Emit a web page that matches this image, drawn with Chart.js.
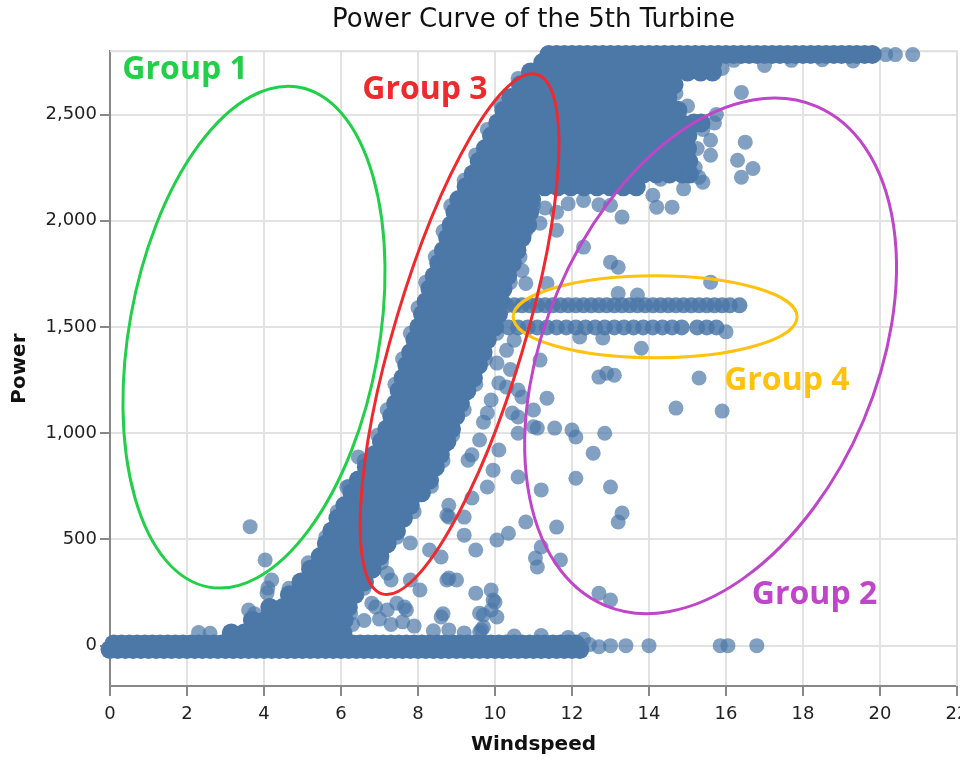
<!DOCTYPE html>
<html lang="en">
<head>
<meta charset="UTF-8">
<title>Power Curve of the 5th Turbine</title>
<script src="https://cdn.jsdelivr.net/npm/chart.js"></script>
<style>
  html, body { margin: 0; padding: 0; background: #fff; }
  #wrap { width: 960px; height: 760px; }
</style>
</head>
<body>
<div id="wrap"><canvas id="chart" width="960" height="760"></canvas></div>
<script>
// tick labels
const windTicks = [0, 2, 4, 6, 8, 10, 12, 14, 16, 18, 20, 22];
const powerTicks = [0, 500, 1000, 1500, 2000, 2500];

// Dense part of the cloud, read row by row: [power, windspeed, windspeed, ...]
const denseRows = [
  [-18, 0, 0.2, 0.4, 0.6, 0.8, 1.0, 1.2, 1.4, 1.6, 1.8, 2.0, 2.2, 2.4, 2.6, 2.8, 3.0, 3.2, 3.4, 3.6, 3.8, 4.0, 4.2, 4.4, 4.6, 4.8, 5.0, 5.2, 5.4, 5.6, 5.8, 6.0, 6.2, 6.4, 6.6, 6.8, 7.0, 7.2, 7.4, 7.6, 7.8, 8.0, 8.2, 8.4, 8.6, 8.8, 9.0, 9.2, 9.4, 9.6, 9.8, 10.0, 10.2, 10.4, 10.6, 10.8, 11.0, 11.2, 11.4, 11.6, 11.8, 12.0, 12.2],
  [8, 0.1, 0.3, 0.5, 0.7, 0.9, 1.1, 1.3, 1.5, 1.7, 1.9, 2.1, 2.3, 2.5, 2.7, 2.9, 3.1, 3.3, 3.5, 3.7, 3.9, 4.1, 4.3, 4.5, 4.7, 4.9, 5.1, 5.3, 5.5, 5.7, 5.9, 6.1, 6.3, 6.5, 6.7, 6.9, 7.1, 7.3, 7.5, 7.7, 7.9, 8.1, 8.3, 8.5, 8.7, 8.9, 9.1, 9.3, 9.5, 9.7, 9.9, 10.1, 10.3, 10.5, 10.7, 10.9, 11.1, 11.3, 11.5, 11.7, 11.9, 12.1],
  [60, 3.15, 3.49, 3.83, 4.17, 4.51, 4.85, 5.19, 5.53, 5.87, 6.05],
  [120, 3.7, 4.04, 4.38, 4.72, 5.06, 5.4, 5.74, 6.08],
  [180, 4.15, 4.49, 4.83, 5.17, 5.51, 5.85, 6.19],
  [240, 4.66, 5.0, 5.34, 5.68, 6.02, 6.36],
  [300, 4.96, 5.3, 5.64, 5.98, 6.32, 6.61],
  [360, 5.21, 5.55, 5.89, 6.23, 6.57, 6.81],
  [420, 5.46, 5.8, 6.14, 6.48, 6.82, 7.01],
  [480, 5.62, 5.96, 6.3, 6.64, 6.98, 7.2],
  [540, 5.76, 6.1, 6.44, 6.78, 7.12, 7.44],
  [600, 5.92, 6.26, 6.6, 6.94, 7.28, 7.62],
  [660, 6.1, 6.44, 6.78, 7.12, 7.46, 7.8],
  [720, 6.28, 6.62, 6.96, 7.3, 7.64, 7.98, 8.09],
  [780, 6.45, 6.79, 7.13, 7.47, 7.81, 8.15, 8.3],
  [840, 6.66, 7.0, 7.34, 7.68, 8.02, 8.36, 8.45],
  [900, 6.88, 7.22, 7.56, 7.9, 8.24, 8.58],
  [960, 7.05, 7.39, 7.73, 8.07, 8.41, 8.75],
  [1020, 7.19, 7.53, 7.87, 8.21, 8.55, 8.87],
  [1080, 7.32, 7.66, 8.0, 8.34, 8.68, 8.98],
  [1140, 7.42, 7.76, 8.1, 8.44, 8.78, 9.1],
  [1200, 7.51, 7.85, 8.19, 8.53, 8.87, 9.21, 9.27],
  [1260, 7.61, 7.95, 8.29, 8.63, 8.97, 9.31, 9.44],
  [1320, 7.71, 8.05, 8.39, 8.73, 9.07, 9.41, 9.57],
  [1380, 7.81, 8.15, 8.49, 8.83, 9.17, 9.51, 9.69],
  [1440, 7.92, 8.26, 8.6, 8.94, 9.28, 9.62, 9.8],
  [1500, 8.02, 8.36, 8.7, 9.04, 9.38, 9.72, 9.99],
  [1560, 8.12, 8.46, 8.8, 9.14, 9.48, 9.82, 10.09],
  [1620, 8.21, 8.55, 8.89, 9.23, 9.57, 9.91, 10.15],
  [1680, 8.31, 8.65, 8.99, 9.33, 9.67, 10.01, 10.21],
  [1740, 8.42, 8.76, 9.1, 9.44, 9.78, 10.12, 10.33],
  [1800, 8.54, 8.88, 9.22, 9.56, 9.9, 10.24, 10.45],
  [1860, 8.66, 9.0, 9.34, 9.68, 10.02, 10.36, 10.57],
  [1920, 8.77, 9.11, 9.45, 9.79, 10.13, 10.47, 10.7],
  [1980, 8.86, 9.2, 9.54, 9.88, 10.22, 10.56, 10.85],
  [2040, 8.96, 9.3, 9.64, 9.98, 10.32, 10.66, 10.9],
  [2100, 9.06, 9.4, 9.74, 10.08, 10.42, 10.76, 10.95],
  [2160, 9.25, 9.59, 9.93, 10.27, 10.61, 10.95, 11.29, 11.63, 11.97, 12.31, 12.65, 12.99, 13.33, 13.67],
  [2220, 9.43, 9.77, 10.11, 10.45, 10.79, 11.13, 11.47, 11.81, 12.15, 12.49, 12.83, 13.17, 13.51, 13.85, 14.19, 14.53, 14.87, 15.05],
  [2280, 9.59, 9.93, 10.27, 10.61, 10.95, 11.29, 11.63, 11.97, 12.31, 12.65, 12.99, 13.33, 13.67, 14.01, 14.35, 14.69, 15.03],
  [2340, 9.75, 10.09, 10.43, 10.77, 11.11, 11.45, 11.79, 12.13, 12.47, 12.81, 13.15, 13.49, 13.83, 14.17, 14.51, 14.85, 15.0],
  [2400, 9.91, 10.25, 10.59, 10.93, 11.27, 11.61, 11.95, 12.29, 12.63, 12.97, 13.31, 13.65, 13.99, 14.33, 14.67, 15.01],
  [2460, 10.07, 10.41, 10.75, 11.09, 11.43, 11.77, 12.11, 12.45, 12.79, 13.13, 13.47, 13.81, 14.15, 14.49, 14.83, 15.17, 15.35],
  [2520, 10.23, 10.57, 10.91, 11.25, 11.59, 11.93, 12.27, 12.61, 12.95, 13.29, 13.63, 13.97, 14.31, 14.65, 14.75],
  [2580, 10.41, 10.75, 11.09, 11.43, 11.77, 12.11, 12.45, 12.79, 13.13, 13.47, 13.81, 14.15, 14.49],
  [2640, 10.66, 11.0, 11.34, 11.68, 12.02, 12.36, 12.7, 13.04, 13.38, 13.72, 14.06, 14.4, 14.65],
  [2700, 10.92, 11.26, 11.6, 11.94, 12.28, 12.62, 12.96, 13.3, 13.64, 13.98, 14.32, 14.66, 15.0, 15.34, 15.65],
  [2745, 11.24, 11.58, 11.92, 12.26, 12.6, 12.94, 13.28, 13.62, 13.96, 14.3, 14.64, 14.98, 15.32, 15.66],
  [2783, 11.4, 11.6, 11.8, 12.0, 12.2, 12.4, 12.6, 12.8, 13.0, 13.2, 13.4, 13.6, 13.8, 14.0, 14.2, 14.4, 14.6, 14.8, 15.0, 15.2, 15.4, 15.6, 15.8, 16.0, 16.2, 16.4, 16.6, 16.8, 17.0, 17.2, 17.4, 17.6, 17.8, 18.0, 18.2, 18.4, 18.6, 18.8, 19.0, 19.2, 19.4, 19.6, 19.8]
];

// the two flat rows at about 1,600 and 1,500 (group 4)
const curtailRows = [
  [1602, 10.3, 10.5, 10.7, 10.9, 11.1, 11.3, 11.5, 11.7, 11.9, 12.1, 12.3, 12.5, 12.7, 12.9, 13.1, 13.3, 13.5, 13.7, 13.9, 14.1, 14.3, 14.5, 14.7, 14.9, 15.1, 15.3, 15.5, 15.7, 15.9, 16.1, 16.35],
  [1498, 10.35, 10.6, 10.85, 11.1, 11.35, 11.6, 11.85, 12.1, 12.35, 12.6, 12.85, 13.1, 13.35, 13.6, 13.85, 14.1, 14.35, 14.6, 14.85, 15.25, 15.5, 15.75]
];

// readings on the rim of the dense cloud: [windspeed, power]
const rimPoints = [
  [3.75, 150], [4.65, 270], [5.15, 390], [5.6, 510], [5.9, 630], [6.2, 750], [6.6, 870], [6.95, 990], [7.2, 1110],
  [7.4, 1230], [7.6, 1350], [7.8, 1470], [8.0, 1590], [8.2, 1710], [8.45, 1830], [8.65, 1950], [8.85, 2070],
  [9.2, 2190], [9.5, 2310], [9.8, 2430], [10.15, 2550], [10.6, 2670],
  [6.25, 150], [6.6, 270], [7.05, 390], [7.45, 510], [7.9, 630], [8.35, 750], [8.65, 870], [8.9, 990], [9.2, 1110],
  [9.5, 1230], [9.75, 1350], [10.05, 1470], [10.4, 1710], [10.65, 1830], [10.8, 1950], [11.0, 2070],
  [11.5, 2175], [12.2, 2175], [12.9, 2175], [13.6, 2175], [14.3, 2195], [15.0, 2215],
  [15.2, 2250], [15.25, 2340], [15.4, 2430], [15.0, 2540], [14.7, 2600]
];

// single readings away from the dense cloud: [windspeed, power]
const scatterPoints = [
  [2.3, 62], [2.6, 58], [3.6, 168], [3.64, 560], [4.03, 403], [4.2, 309], [4.1, 271], [4.08, 248], [6.45, 888], [6.15, 746],
  [6.3, 100], [6.6, 118], [7.0, 125], [7.3, 100], [7.6, 112], [7.9, 92], [8.4, 70], [8.8, 74], [9.2, 60],
  [6.8, 200], [6.9, 182], [7.2, 168], [7.45, 200], [7.65, 182], [7.7, 168], [7.2, 341], [7.3, 309], [7.8, 309],
  [8.05, 262], [7.8, 483], [8.3, 450], [8.6, 417], [8.6, 135], [8.65, 150], [8.75, 309], [9.0, 309], [8.8, 318],
  [8.75, 614], [8.8, 661], [8.8, 605], [9.2, 605], [9.2, 520], [9.4, 695], [9.5, 450], [9.5, 247], [9.6, 153],
  [9.6, 64], [9.65, 74], [9.7, 88], [9.7, 144], [9.9, 262], [9.95, 215], [9.9, 168], [10.05, 135], [10.05, 497], [10.35, 529],
  [9.3, 873], [9.4, 898], [9.6, 968], [9.7, 1052], [9.8, 1095], [9.8, 747], [9.95, 826], [10.1, 921], [9.9, 1156],
  [10.1, 1236], [10.3, 1217], [10.6, 1203], [10.7, 1170], [10.45, 1095], [10.6, 1076], [10.6, 1000], [10.6, 794],
  [11.0, 1109], [11.0, 1030], [11.1, 1024], [11.35, 1165], [11.55, 1024], [12.0, 1015], [12.1, 982], [12.1, 788],
  [12.55, 906], [12.85, 1000], [13.0, 747], [13.2, 582], [13.3, 624], [10.8, 582], [11.2, 733], [11.6, 558],
  [11.7, 403], [11.05, 412], [11.1, 370], [11.2, 464], [12.7, 247], [13.0, 215], [10.0, 205],
  [10.05, 1330], [10.3, 1390], [10.5, 1438], [11.17, 1344], [10.4, 1300], [12.7, 1264], [13.1, 1273], [12.9, 1282],
  [10.7, 1766], [10.8, 1705], [11.35, 1705], [11.17, 1988], [11.6, 1955], [11.3, 2060], [11.6, 2040], [11.9, 2080],
  [12.3, 2095], [12.7, 2075], [12.3, 1876], [13.0, 1805], [13.2, 1781], [13.0, 2073], [13.3, 2017], [14.2, 2064],
  [14.6, 2064], [13.2, 1658], [13.7, 1650], [15.6, 1711],
  [12.2, 1453], [12.8, 1448], [13.8, 1400], [16.0, 1477],
  [14.7, 1118], [15.9, 1104], [15.3, 1260],
  [14.1, 2120], [14.9, 2150], [15.3, 2205], [15.4, 2181], [16.4, 2205], [16.7, 2246], [16.3, 2285], [15.6, 2308],
  [15.6, 2379], [16.5, 2370], [15.7, 2460], [15.75, 2500], [16.4, 2604], [15.9, 2717], [17.0, 2731],
  [16.2, 2755], [17.7, 2755], [18.5, 2758], [19.3, 2752],
  [20.15, 2782], [20.4, 2782], [20.85, 2782],
  [12.45, 5], [12.7, -5], [13.0, 0], [13.4, 0], [14.0, 0], [15.85, 0], [16.05, 0], [16.8, 0],
  [10.5, 45], [11.2, 48], [11.9, 38], [12.3, 30]
];

// hand-drawn group rings: centre in data units, radii in pixels, tilt in degrees
const groups = [
  { label: 'Group 4', color: '#ffc20e', at: [14.16, 1548], radii: [142, 41], tilt: 0, text: [17.58, 1203] },
  { label: 'Group 1', color: '#22cf48', at: [3.74, 1452], radii: [125, 254], tilt: 10.25, text: [1.95, 2666] },
  { label: 'Group 3', color: '#ee2a2e', at: [9.08, 1466], radii: [65, 271], tilt: 16.6, text: [8.18, 2571] },
  { label: 'Group 2', color: '#bf45c9', at: [15.6, 1364], radii: [166, 271], tilt: 23, text: [18.3, 196] }
];

const rowsToPoints = rows => rows.flatMap(r => r.slice(1).map(x => ({ x: x, y: r[0] })));
const pairsToPoints = pairs => pairs.map(p => ({ x: p[0], y: p[1] }));

const FONT = "'DejaVu Sans', sans-serif";
Chart.defaults.font.family = FONT;

const frame = {
  id: 'frame',
  beforeDatasetsDraw(chart) {
    const { ctx, chartArea: a } = chart;
    ctx.save();
    ctx.strokeStyle = '#dddddd';
    ctx.lineWidth = 2;
    ctx.beginPath();
    ctx.moveTo(a.left, a.top);
    ctx.lineTo(a.right, a.top);
    ctx.lineTo(a.right, a.bottom);
    ctx.stroke();
    ctx.restore();
  }
};

const rings = {
  id: 'rings',
  afterDatasetsDraw(chart) {
    const { ctx, scales: { x, y } } = chart;
    ctx.save();
    groups.forEach(g => {
      ctx.strokeStyle = g.color;
      ctx.lineWidth = 3;
      ctx.beginPath();
      ctx.ellipse(x.getPixelForValue(g.at[0]), y.getPixelForValue(g.at[1]),
        g.radii[0], g.radii[1], g.tilt * Math.PI / 180, 0, Math.PI * 2);
      ctx.stroke();
    });
    groups.forEach(g => {
      ctx.fillStyle = g.color;
      ctx.font = "bold 32px 'Open Sans', sans-serif";
      ctx.textAlign = 'center';
      ctx.textBaseline = 'alphabetic';
      ctx.fillText(g.label, x.getPixelForValue(g.text[0]), y.getPixelForValue(g.text[1]));
    });
    ctx.restore();
  }
};

const fixedTicks = values => scale => { scale.ticks = values.map(v => ({ value: v })); };

const looseStyle = {
  pointRadius: 7.5,
  pointBorderWidth: 0,
  pointBackgroundColor: 'rgba(76, 120, 168, 0.7)',
  pointBorderColor: 'rgba(76, 120, 168, 0)',
  clip: false
};

new Chart(document.getElementById('chart'), {
  type: 'scatter',
  data: {
    datasets: [
      Object.assign({ label: 'rim', data: pairsToPoints(rimPoints) }, looseStyle),
      {
        label: 'dense',
        data: rowsToPoints(denseRows),
        pointRadius: 9.5,
        pointBorderWidth: 0,
        pointBackgroundColor: '#4c78a8',
        pointBorderColor: 'rgba(76, 120, 168, 0)',
        clip: false
      },
      {
        label: 'flat rows',
        data: rowsToPoints(curtailRows),
        pointRadius: 8,
        pointBorderWidth: 0,
        pointBackgroundColor: 'rgba(76, 120, 168, 0.85)',
        pointBorderColor: 'rgba(76, 120, 168, 0)',
        clip: false
      },
      Object.assign({ label: 'scattered', data: pairsToPoints(scatterPoints) }, looseStyle)
    ]
  },
  options: {
    responsive: false,
    animation: false,
    events: [],
    layout: { autoPadding: false, padding: { left: 0, right: 3, top: 0, bottom: 0 } },
    plugins: {
      legend: { display: false },
      tooltip: { enabled: false },
      title: {
        display: true,
        fullSize: false,
        text: 'Power Curve of the 5th Turbine',
        color: '#111',
        font: { family: FONT, size: 26, weight: 'normal' },
        padding: { top: 5, bottom: 15 }
      }
    },
    scales: {
      x: {
        type: 'linear',
        min: 0,
        max: 22,
        afterBuildTicks: fixedTicks(windTicks),
        ticks: { padding: 8, color: '#222', maxRotation: 0, font: { size: 18 } },
        grid: { color: '#e2e2e2', lineWidth: 2, tickColor: '#888', tickLength: 10, tickWidth: 2 },
        border: { color: '#888', width: 2 },
        title: { display: true, text: 'Windspeed', color: '#111', font: { size: 20, weight: 'bold' }, padding: { top: 0, bottom: 3 } },
        afterFit(s) { s.height = 74; s.paddingLeft = 0; s.paddingRight = 0; }
      },
      y: {
        type: 'linear',
        min: -190,
        max: 2798,
        afterBuildTicks: fixedTicks(powerTicks),
        ticks: { padding: 3, color: '#222', font: { size: 18 } },
        grid: { color: '#e2e2e2', lineWidth: 2, tickColor: '#888', tickLength: 10, tickWidth: 2 },
        border: { color: '#888', width: 2 },
        title: { display: true, text: 'Power', color: '#111', font: { size: 20, weight: 'bold' }, padding: { top: 8, bottom: 0 } },
        afterFit(s) { s.width = 110; s.paddingTop = 0; s.paddingBottom = 0; }
      }
    }
  },
  plugins: [frame, rings]
});
</script>
</body>
</html>
